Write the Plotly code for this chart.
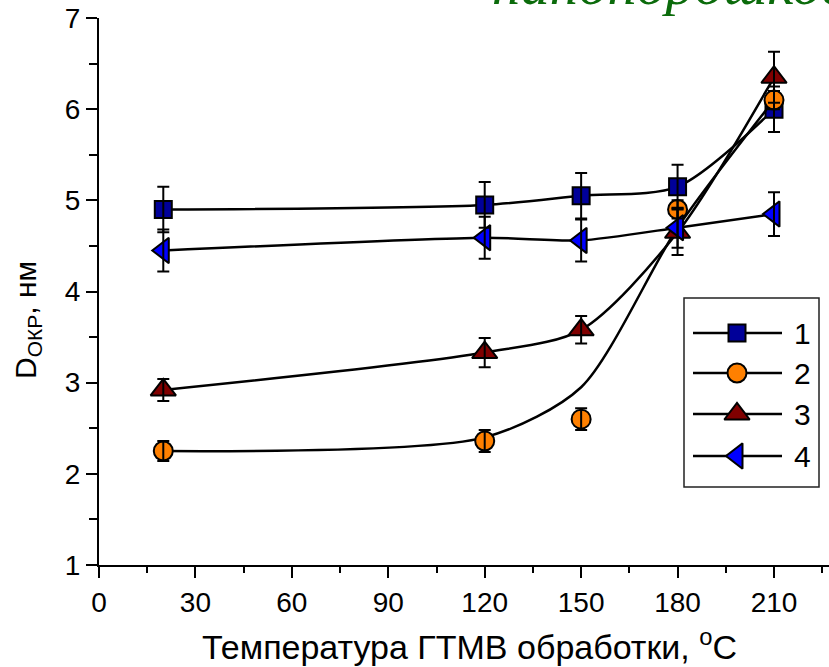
import plotly.graph_objects as go

# ---------------- data ----------------
temps = [20, 120, 150, 180, 210]
d1 = [4.90, 4.95, 5.05, 5.15, 6.00]
e1 = [0.25, 0.25, 0.25, 0.24, 0.25]
d2 = [2.25, 2.36, 2.60, 4.90, 6.10]
e2 = [0.11, 0.12, 0.12, 0.10, 0.10]
fit2 = [2.25, 2.40, 2.95, 4.70, 6.10]
d3 = [2.92, 3.33, 3.58, 4.65, 6.35]
e3 = [0.12, 0.16, 0.15, 0.25, 0.28]
d4 = [4.45, 4.59, 4.56, 4.70, 4.85]
e4 = [0.23, 0.23, 0.23, 0.22, 0.24]
series_names = ["1", "2", "3", "4"]
xtick_vals = [0, 30, 60, 90, 120, 150, 180, 210]
ytick_vals = [1, 2, 3, 4, 5, 6, 7]

# ---------------- styles ----------------
FONT = "Arial, Liberation Sans, sans-serif"
W, H = 829, 667
L, T, R, B = 99, 18, 829, 565
styles = [
    dict(symbol="square", color="#000099", size=17),
    dict(symbol="circle", color="#FF8000", size=19),
    dict(symbol="triangle-up", color="#800000", size=22),
    dict(symbol="triangle-left", color="#0000FF", size=22),
]
smooth = [0.8, 0.75, 0.8, 0.6]
values = [d1, d2, d3, d4]
errors = [e1, e2, e3, e4]
curves = [d1, fit2, d3, d4]

fig = go.Figure()

for vals, curve, st, sm in zip(values, curves, styles, smooth):
    fig.add_trace(go.Scatter(
        x=temps, y=curve, mode="lines",
        line=dict(color="black", width=2.5, shape="spline", smoothing=sm),
        hoverinfo="skip", showlegend=False))
    fig.add_trace(go.Scatter(
        x=temps, y=vals, mode="markers",
        marker=dict(symbol=st["symbol"], color=st["color"], size=st["size"],
                    line=dict(color="black", width=2)),
        showlegend=False))

for vals, err in zip(values, errors):
    fig.add_trace(go.Scatter(
        x=temps, y=vals, mode="markers",
        marker=dict(opacity=0, size=2),
        error_y=dict(type="data", array=err, visible=True,
                     color="black", thickness=2, width=6),
        hoverinfo="skip", showlegend=False))

# ---------------- custom legend (pixel coords on overlay axes) ----------------
rows = [333, 373, 414, 456]
for name, st, yy in zip(series_names, styles, rows):
    fig.add_trace(go.Scatter(
        x=[693, 782], y=[yy, yy], mode="lines", xaxis="x2", yaxis="y2",
        line=dict(color="black", width=2.5), hoverinfo="skip", showlegend=False))
    fig.add_trace(go.Scatter(
        x=[737], y=[yy], mode="markers", xaxis="x2", yaxis="y2",
        marker=dict(symbol=st["symbol"], color=st["color"], size=st["size"],
                    line=dict(color="black", width=2)),
        hoverinfo="skip", showlegend=False))
    fig.add_annotation(x=792, y=yy, xref="x2", yref="y2", text=name,
                       showarrow=False, xanchor="left", yanchor="middle",
                       font=dict(family=FONT, size=30, color="black"))

fig.add_shape(type="rect", xref="x2", yref="y2", x0=684, x1=819, y0=298, y1=487,
              line=dict(color="#222222", width=1.5), fillcolor="rgba(0,0,0,0)")


def px(xp):
    return (xp - L) / (R - L)


def py(yp):
    return (B - yp) / (B - T)


# axis titles as annotations
fig.add_annotation(x=px(469), y=py(644), xref="paper", yref="paper",
                   text="Температура ГТМВ обработки, <sup>o</sup>C",
                   showarrow=False, xanchor="center", yanchor="middle",
                   font=dict(family=FONT, size=34, color="black"))
fig.add_annotation(x=px(27), y=py(320), xref="paper", yref="paper",
                   text="D<sub>ОКР</sub>, нм", textangle=-90,
                   showarrow=False, xanchor="center", yanchor="middle",
                   font=dict(family=FONT, size=30, color="black"))
# cropped green heading from the slide
fig.add_annotation(x=px(490), y=py(19), xref="paper", yref="paper",
                   text="<i>нанопорошков</i>",
                   showarrow=False, xanchor="left", yanchor="bottom",
                   font=dict(family="Liberation Serif, DejaVu Serif, serif", size=58,
                             color="#0B6B0B"))

x_max = (R - L) / ((774 - 99) / 210.0)

fig.update_layout(
    width=W, height=H,
    margin=dict(l=L, r=W - R, t=T, b=H - B, pad=0),
    paper_bgcolor="white", plot_bgcolor="white",
    font=dict(family=FONT, size=28, color="black"),
    showlegend=False,
    xaxis=dict(range=[0, x_max], tickvals=xtick_vals, ticks="outside", ticklen=11,
               tickwidth=2, tickcolor="black", showline=True, linewidth=2,
               linecolor="black", showgrid=False, zeroline=False,
               tickfont=dict(family=FONT, size=28),
               minor=dict(dtick=15, tick0=0, ticks="outside", ticklen=6,
                          tickwidth=2, tickcolor="black", showgrid=False)),
    yaxis=dict(range=[1, 7], tickvals=ytick_vals, ticks="outside", ticklen=11,
               tickwidth=2, tickcolor="black", showline=True, linewidth=2,
               linecolor="black", showgrid=False, zeroline=False,
               tickfont=dict(family=FONT, size=28),
               minor=dict(dtick=0.5, tick0=1, ticks="outside", ticklen=8,
                          tickwidth=2, tickcolor="black", showgrid=False)),
    xaxis2=dict(range=[L, R], overlaying="x", anchor="y2", visible=False),
    yaxis2=dict(range=[B, T], overlaying="y", anchor="x2", visible=False),
)

fig.write_html("out.html")
